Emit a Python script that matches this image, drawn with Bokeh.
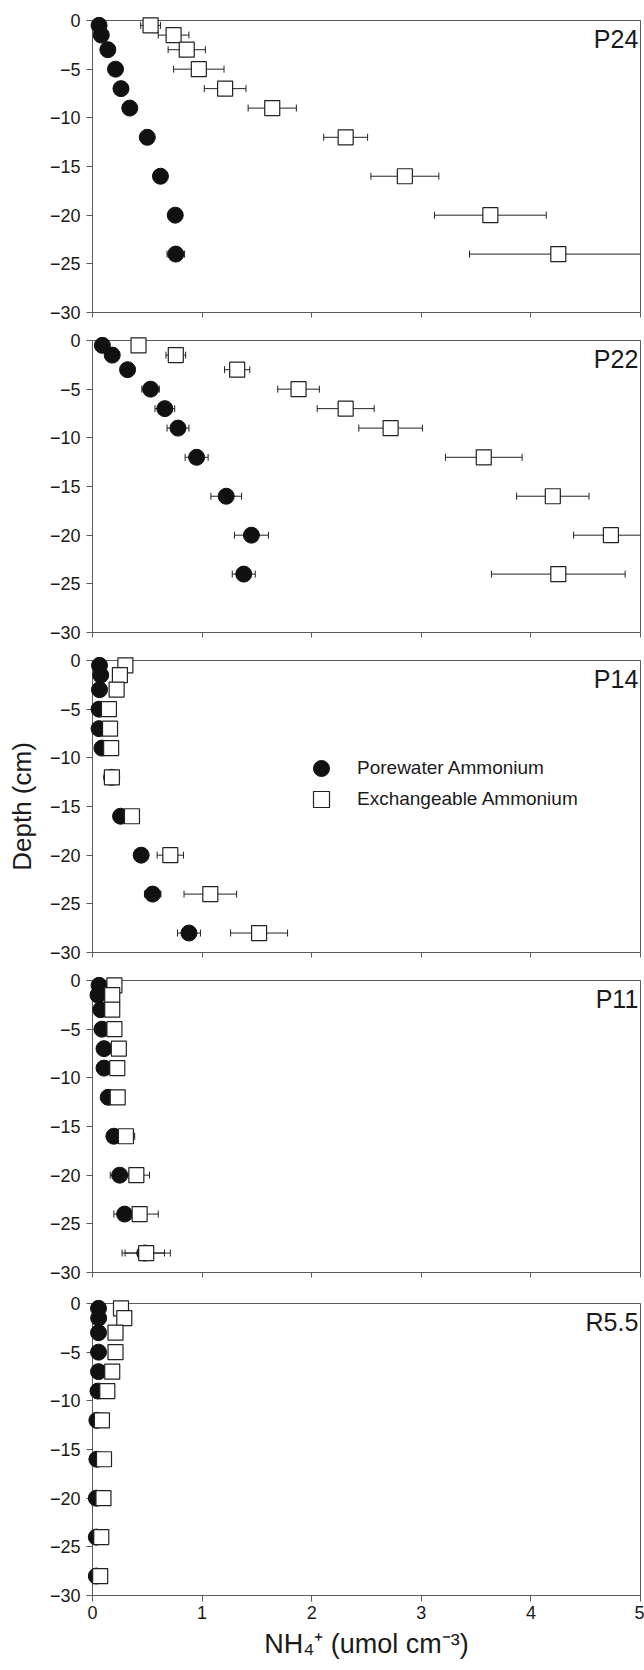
import math
from bokeh.plotting import figure
from bokeh.layouts import column
from bokeh.models import FixedTicker, Label, Legend, LegendItem, ColumnDataSource
from bokeh.embed import file_html
from bokeh.resources import INLINE

# ---------------- data ----------------
depth10 = [-0.5, -1.5, -3, -5, -7, -9, -12, -16, -20, -24]
depth11 = [-0.5, -1.5, -3, -5, -7, -9, -12, -16, -20, -24, -28]

p24_pw = [0.06, 0.08, 0.14, 0.21, 0.26, 0.34, 0.50, 0.62, 0.755, 0.76]
p24_pw_err = [0, 0, 0, 0, 0, 0, 0, 0, 0, 0.08]
p24_ex = [0.53, 0.74, 0.86, 0.97, 1.21, 1.64, 2.31, 2.85, 3.63, 4.25]
p24_ex_err = [0.09, 0.14, 0.17, 0.23, 0.19, 0.22, 0.20, 0.31, 0.51, 0.81]

p22_pw = [0.09, 0.18, 0.32, 0.53, 0.66, 0.78, 0.95, 1.22, 1.45, 1.38]
p22_pw_err = [0, 0, 0, 0.08, 0.09, 0.10, 0.105, 0.14, 0.155, 0.105]
p22_ex = [0.42, 0.76, 1.32, 1.88, 2.31, 2.72, 3.57, 4.20, 4.73, 4.25]
p22_ex_err = [0, 0.09, 0.115, 0.19, 0.26, 0.29, 0.35, 0.33, 0.34, 0.61]

p14_pw = [0.064, 0.075, 0.064, 0.06, 0.06, 0.086, 0.175, 0.256, 0.444, 0.549, 0.88]
p14_pw_err = [0, 0, 0, 0, 0, 0, 0, 0, 0, 0.075, 0.105]
p14_ex = [0.30, 0.25, 0.22, 0.15, 0.16, 0.17, 0.177, 0.36, 0.71, 1.075, 1.52]
p14_ex_err = [0.06, 0, 0, 0, 0, 0, 0.07, 0, 0.12, 0.24, 0.26]

p11_pw = [0.06, 0.05, 0.075, 0.086, 0.105, 0.105, 0.143, 0.195, 0.248, 0.293, 0.477]
p11_pw_err = [0, 0, 0, 0, 0, 0, 0, 0, 0.086, 0.098, 0.18]
p11_ex = [0.20, 0.18, 0.18, 0.20, 0.24, 0.226, 0.23, 0.305, 0.40, 0.43, 0.49]
p11_ex_err = [0, 0, 0, 0, 0, 0, 0, 0.08, 0.12, 0.17, 0.22]

r55_pw = [0.055, 0.056, 0.055, 0.055, 0.055, 0.05, 0.04, 0.04, 0.035, 0.035, 0.035]
r55_pw_err = [0] * 11
r55_ex = [0.26, 0.29, 0.21, 0.21, 0.18, 0.135, 0.086, 0.105, 0.10, 0.08, 0.07]
r55_ex_err = [0] * 11

x_ticks = [0, 1, 2, 3, 4, 5]
y_ticks = [0, -5, -10, -15, -20, -25, -30]
panel_names = ["P24", "P22", "P14", "P11", "R5.5"]
legend_labels = ["Porewater Ammonium", "Exchangeable Ammonium"]
x_title = "NH\u2084\u207a (umol cm\u207b\u00b3)"
y_title = "Depth (cm)"

FONT = "Liberation Sans"
TXT = "#1a1a1a"
AX = "#5a5a5a"


def err_source(x, y, e):
    xs = [a for a, b in zip(x, e) if b > 0]
    ys = [c for c, b in zip(y, e) if b > 0]
    es = [b for b in e if b > 0]
    return ColumnDataSource(dict(y=ys, lo=[a - b for a, b in zip(xs, es)],
                                 hi=[a + b for a, b in zip(xs, es)]))


def panel(name, depth, pw, pw_err, ex, ex_err, height, top, bottom,
          last=False, ylab=False, legend=False):
    p = figure(width=644, height=height, x_range=(0, 5), y_range=(-30, 0),
               output_backend="svg", toolbar_location=None,
               min_border_left=92, min_border_right=4,
               min_border_top=top, min_border_bottom=bottom)
    p.grid.visible = False
    p.outline_line_color = AX
    p.outline_line_width = 1
    p.background_fill_color = "white"
    p.border_fill_color = "white"

    p.xaxis.ticker = FixedTicker(ticks=x_ticks)
    p.yaxis.ticker = FixedTicker(ticks=y_ticks)
    for ax in (p.xaxis[0], p.yaxis[0]):
        ax.axis_line_color = AX
        ax.major_tick_line_color = AX
        ax.minor_tick_line_color = None
        ax.major_tick_in = 0
        ax.major_tick_out = 6
        ax.major_label_text_font = FONT
        ax.major_label_text_font_size = "18px"
        ax.major_label_text_color = TXT
        ax.axis_label_text_font = FONT
        ax.axis_label_text_font_style = "normal"
        ax.axis_label_text_color = TXT
    p.yaxis.major_label_standoff = 6
    if last:
        p.xaxis.major_label_standoff = 4
        p.xaxis.axis_label = x_title
        p.xaxis.axis_label_text_font_size = "27px"
        p.xaxis.axis_label_standoff = 7
    else:
        p.xaxis.major_label_text_color = None
        p.xaxis.major_label_text_font_size = "1px"
        p.xaxis.major_label_standoff = 0
        p.xaxis.major_tick_out = 5
    if ylab:
        p.yaxis.axis_label = y_title
        p.yaxis.axis_label_text_font_size = "26px"
        p.yaxis.axis_label_standoff = 10

    for xv, ev in ((pw, pw_err), (ex, ex_err)):
        s = err_source(xv, depth, ev)
        p.segment(x0="lo", y0="y", x1="hi", y1="y", source=s,
                  line_color="#222222", line_width=1)
        p.scatter(x="lo", y="y", source=s, marker="dash", angle=math.pi / 2,
                  size=7, line_color="#222222", line_width=1)
        p.scatter(x="hi", y="y", source=s, marker="dash", angle=math.pi / 2,
                  size=7, line_color="#222222", line_width=1)

    r1 = p.scatter(x=pw, y=depth, marker="circle", size=16,
                   fill_color="#111111", line_color="#111111", level="overlay")
    r2 = p.scatter(x=ex, y=depth, marker="square", size=15,
                   fill_color="white", line_color="#222222", line_width=1.2,
                   level="overlay")

    p.add_layout(Label(x=4.98, y=-1.9, text=name, text_align="right",
                       text_baseline="middle", text_font=FONT,
                       text_font_size="25px", text_color=TXT))
    if legend:
        common = dict(orientation="vertical", border_line_color=None,
                      background_fill_alpha=0, padding=0, margin=0, spacing=0,
                      glyph_width=40, glyph_height=40, label_height=40,
                      label_standoff=16, label_text_font=FONT,
                      label_text_font_size="19px", label_text_color=TXT)
        lg1 = Legend(items=[LegendItem(label=legend_labels[0], renderers=[r1])],
                     location=(209, 164), **common)
        lg2 = Legend(items=[LegendItem(label=legend_labels[1], renderers=[r2])],
                     location=(209, 133), **common)
        p.add_layout(lg1)
        p.add_layout(lg2)
    return p


f1 = panel(panel_names[0], depth10, p24_pw, p24_pw_err, p24_ex, p24_ex_err, 324, 20, 12)
f2 = panel(panel_names[1], depth10, p22_pw, p22_pw_err, p22_ex, p22_ex_err, 320, 16, 12)
f3 = panel(panel_names[2], depth11, p14_pw, p14_pw_err, p14_ex, p14_ex_err, 320, 16, 12,
           ylab=True, legend=True)
f4 = panel(panel_names[3], depth11, p11_pw, p11_pw_err, p11_ex, p11_ex_err, 320, 16, 12)
f5 = panel(panel_names[4], depth11, r55_pw, r55_pw_err, r55_ex, r55_ex_err, 386, 19, 75,
           last=True)

layout = column(f1, f2, f3, f4, f5, spacing=0)
open("out.html", "w").write(file_html(layout, INLINE))
